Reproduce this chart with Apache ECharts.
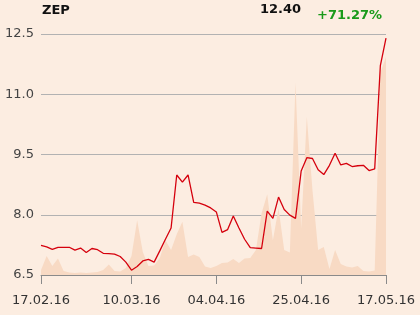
<!DOCTYPE html>
<html><head><meta charset="utf-8">
<script src="https://cdn.jsdelivr.net/npm/echarts@6/dist/echarts.min.js"></script>
<style>html,body{margin:0;padding:0;background:#fcede1;}#c{width:420px;height:315px;}</style>
</head><body><div id="c"></div>
<script>
var dates = ["17.02.16","18.02.16","19.02.16","22.02.16","23.02.16","24.02.16","25.02.16","26.02.16","29.02.16",
"01.03.16","02.03.16","03.03.16","04.03.16","07.03.16","08.03.16","09.03.16","10.03.16","11.03.16","14.03.16","15.03.16",
"16.03.16","17.03.16","18.03.16","21.03.16","22.03.16","23.03.16","24.03.16","29.03.16","30.03.16","31.03.16","01.04.16",
"04.04.16","05.04.16","06.04.16","07.04.16","08.04.16","11.04.16","12.04.16","13.04.16","14.04.16","15.04.16","18.04.16",
"19.04.16","20.04.16","21.04.16","22.04.16","25.04.16","26.04.16","27.04.16","28.04.16","29.04.16","02.05.16","03.05.16",
"04.05.16","05.05.16","06.05.16","09.05.16","10.05.16","11.05.16","12.05.16","13.05.16","17.05.16"];
var prices = [7.24,7.20,7.14,7.19,7.19,7.19,7.12,7.17,7.06,7.16,7.13,7.04,7.03,7.02,6.96,6.82,6.62,6.71,6.85,6.89,
6.82,7.10,7.39,7.67,8.99,8.81,8.99,8.31,8.29,8.24,8.17,8.07,7.56,7.63,7.97,7.67,7.39,7.18,7.17,7.16,
8.09,7.91,8.44,8.13,7.99,7.91,9.09,9.42,9.40,9.12,9.00,9.23,9.53,9.24,9.28,9.20,9.22,9.23,9.10,9.14,11.71,12.40];
var volumes = [5,19,9,16.5,4,2.5,2,2.5,2,2.5,3,5,10.5,4,3.5,7,19,55,23,9,9.5,17,35,25,41,53.5,18,20.5,18,8.5,
7,9,12,12.5,16,12,16.5,17,25,62,81,35,67,25,22.5,193,47,159,85,25,28,6,25,11,8.5,7.5,9,4,3.5,4.5,203,219];
var yTicks = [6.5, 8.0, 9.5, 11.0, 12.5];
var labelIdx = [0,16,31,46,61];
var titleText = "ZEP", lastText = "12.40", changeText = "+71.27%";

var chart = echarts.init(document.getElementById('c'), null, {renderer:'canvas'});
var font = 'DejaVu Sans';
function showIdx(i){ return labelIdx.indexOf(i) >= 0; }
chart.setOption({
  backgroundColor: '#fcede1',
  animation: false,
  grid: {left: 41, right: 34, top: 34, bottom: 40},
  xAxis: {
    type: 'category', data: dates, boundaryGap: false,
    axisLine: {lineStyle: {color: '#8a8a8a', width: 1}},
    axisTick: {interval: function(i){return showIdx(i);}, length: 9, lineStyle: {color: '#8a8a8a'}},
    axisLabel: {interval: function(i){return showIdx(i);}, color: '#333', fontFamily: font, fontSize: 13, margin: 19},
    splitLine: {show: false}
  },
  yAxis: [{
    type: 'value', min: yTicks[0], max: yTicks[yTicks.length-1], interval: 1.5,
    axisLine: {show: false}, axisTick: {show: false},
    axisLabel: {color: '#444', fontFamily: font, fontSize: 13, margin: 7, formatter: function(v){return v.toFixed(1);}},
    splitLine: {lineStyle: {color: '#b2b2b2', width: 1}}
  },{
    type: 'value', min: 0, max: 242, show: false, splitLine: {show: false}
  }],
  series: [{
    type: 'line', yAxisIndex: 1, data: volumes, symbol: 'none', silent: true,
    lineStyle: {width: 0}, areaStyle: {color: '#f8dac4', opacity: 1}, z: 1
  },{
    type: 'line', yAxisIndex: 0, data: prices, symbol: 'none',
    lineStyle: {color: '#d5000d', width: 1.3}, z: 3
  }],
  graphic: [
    {type: 'text', left: 42, top: 4, style: {text: titleText, font: 'bold 13px DejaVu Sans', fill: '#111'}},
    {type: 'text', left: 260, top: 3, style: {text: lastText, font: 'bold 13px DejaVu Sans', fill: '#111'}},
    {type: 'text', left: 317, top: 9, style: {text: changeText, font: 'bold 13px DejaVu Sans', fill: '#1a9a1a'}}
  ]
});
</script></body></html>
